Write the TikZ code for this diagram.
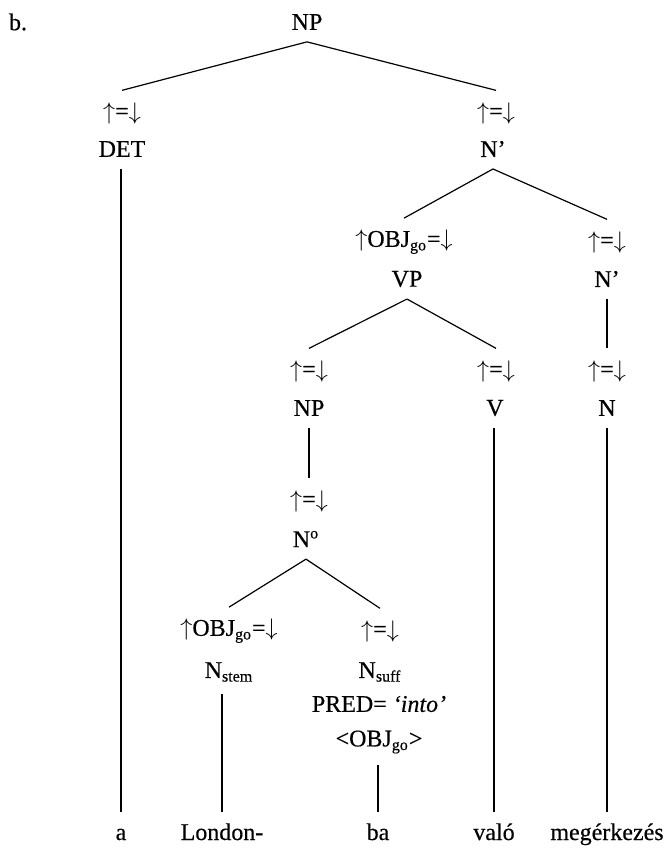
\documentclass[tikz,border=0pt]{standalone}
\usepackage{fontspec}
\setmainfont{Liberation Serif}[FakeBold=0.4]
\newcommand{\subscr}[1]{\textsubscript{#1}}
\newcommand{\up}{$\uparrow$}
\newcommand{\down}{$\downarrow$}

\begin{document}
\begin{tikzpicture}[
    x=0.5pt,
    y=-0.5pt,
    every node/.style={font=\fontsize{12}{14}\selectfont, inner sep=1pt},
    cat/.style={outer sep=5pt},
    ann/.style={outer sep=5pt},
    word/.style={
        anchor=base,
        text height=8.5pt,
        text depth=2pt,
        outer sep=4.5pt
    },
    branch/.style={line width=0.6pt}
]
\useasboundingbox (0,0) rectangle (669,848);

\node (lbl) at (18,22) {b.};

% Tree nodes
\node[cat] (np) at (307,22) {NP};

\node[ann] (detann) at (122,113) {\up=\down};
\node[cat] (det) at (122,149) {DET};
\node[ann] (nbarann) at (496,113) {\up=\down};
\node[cat] (nbar) at (493,149) {N’};

\node[ann] (vpann) at (404,242) {\up OBJ\subscr{go}=\down};
\node[cat] (vp) at (407,279) {VP};
\node[ann] (nbarbann) at (607,242) {\up=\down};
\node[cat] (nbarb) at (607,279) {N’};

\node[ann] (npbann) at (309,371) {\up=\down};
\node[cat] (npb) at (309,408) {NP};
\node[ann] (vann) at (496,371) {\up=\down};
\node[cat] (v) at (495,408) {V};
\node[ann] (nann) at (607,371) {\up=\down};
\node[cat] (n) at (607,408) {N};

\node[ann] (nzeroann) at (309,501) {\up=\down};
\node[cat] (nzero) at (306,539) {N\textsuperscript{o}};

\node[ann] (stemann) at (229,631) {\up OBJ\subscr{go}=\down};
\node[cat] (stem) at (229,672) {N\subscr{stem}};
\node[ann] (suffann) at (380,631) {\up=\down};
\node[cat] (suff) at (380,672) {N\subscr{suff}};
\node[cat] (pred) at (379,704) {PRED= \textit{‘into’}};
\node[cat] (args) at (379,742) {<OBJ\subscr{go}>};

% Words
\node[word] (a) at (121,840) {a};
\node[word] (london) at (222,840) {London-};
\node[word] (ba) at (378,840) {ba};
\node[word] (valo) at (494,840) {való};
\node[word] (arrival) at (607,840) {megérkezés};

% Branches
\draw[branch] (np.south) -- (detann.north);
\draw[branch] (np.south) -- (nbarann.north);
\draw[branch] (nbar.south) -- (vpann.north);
\draw[branch] (nbar.south) -- (nbarbann.north);
\draw[branch] (vp.south) -- (npbann.north);
\draw[branch] (vp.south) -- (vann.north);
\draw[branch] (nbarb.south) -- (nann.north);
\draw[branch] (npb.south) -- (nzeroann.north);
\draw[branch] (nzero.south) -- (stemann.north);
\draw[branch] (nzero.south) -- (suffann.north);

% Lines to the words
\draw[branch] (a.north |- det.south) -- (a.north);
\draw[branch] (london.north |- stem.south) -- (london.north);
\draw[branch] (ba.north |- args.south) -- (ba.north);
\draw[branch] (valo.north |- v.south) -- (valo.north);
\draw[branch] (arrival.north |- n.south) -- (arrival.north);

\end{tikzpicture}
\end{document}
